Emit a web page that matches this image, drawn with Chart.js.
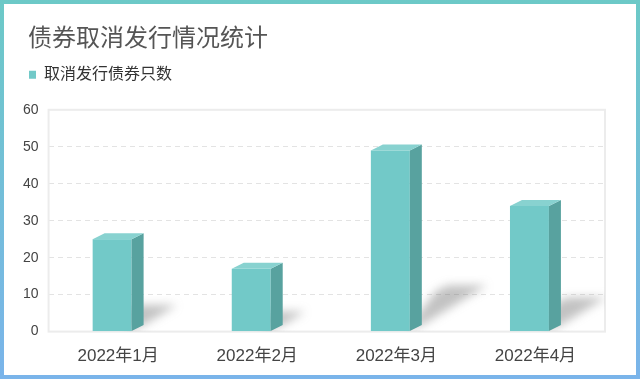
<!DOCTYPE html>
<html>
<head>
<meta charset="utf-8">
<script src="https://cdn.jsdelivr.net/npm/chart.js@4"></script>
<style>
  html, body { margin: 0; padding: 0; background: #fff; }
  #frame {
    width: 640px; height: 379px; box-sizing: border-box; padding: 4px;
    background: linear-gradient(to bottom, #6cc9c7, #7ab4ea);
  }
  #inner { width: 632px; height: 371px; background: #fff; }
  canvas { display: block; }
</style>
</head>
<body>
<div id="frame"><div id="inner"><canvas id="chart" width="632" height="371"></canvas></div></div>
<script>
const months = ["2022年1月", "2022年2月", "2022年3月", "2022年4月"];
const cancelled = [25, 17, 49, 34];
const seriesName = "取消发行债券只数";
const chartTitle = "债券取消发行情况统计";

const FRONT = "#72c9c8";
const SIDE = "#58a29f";
const TOP = "#88d2d0";
const DX = 12, DY = 6;
const FONT = "'Liberation Sans', 'Noto Sans CJK SC', sans-serif";

// draws the 3D boxes (front, side, top) plus a soft floor shadow
const bars3d = {
  id: "bars3d",
  beforeDatasetsDraw(chart) {
    const { ctx, chartArea: a } = chart;
    const bars = chart.getDatasetMeta(0).data;

    ctx.save();
    ctx.beginPath();
    ctx.rect(a.left, a.top, a.right - a.left, a.bottom - a.top);
    ctx.clip();

    // shadows first
    ctx.filter = "blur(5px)";
    ctx.fillStyle = "rgba(110,110,110,0.42)";
    for (const b of bars) {
      const w = b.width;
      const fl = b.x - w / 2 - DX / 2;
      const fr = fl + w;
      const base = b.base;
      const H = base - b.y;
      const px = 0.36 * H, py = 0.22 * H;
      ctx.beginPath();
      ctx.moveTo(fr - 4, base);
      ctx.lineTo(fr + DX, base - DY);
      ctx.lineTo(fr + DX + px, base - DY - py);
      ctx.lineTo(fl + DX + px, base - DY - py);
      ctx.lineTo(fl + px, base - py);
      ctx.closePath();
      ctx.fill();
    }
    ctx.filter = "none";

    for (const b of bars) {
      const w = b.width;
      const fl = b.x - w / 2 - DX / 2;
      const fr = fl + w;
      const top = b.y, base = b.base;

      ctx.fillStyle = FRONT;
      ctx.fillRect(fl, top, w, base - top);

      ctx.fillStyle = SIDE;
      ctx.beginPath();
      ctx.moveTo(fr, top);
      ctx.lineTo(fr + DX, top - DY);
      ctx.lineTo(fr + DX, base - DY);
      ctx.lineTo(fr, base);
      ctx.closePath();
      ctx.fill();

      ctx.fillStyle = TOP;
      ctx.beginPath();
      ctx.moveTo(fl, top);
      ctx.lineTo(fl + DX, top - DY);
      ctx.lineTo(fr + DX, top - DY);
      ctx.lineTo(fr, top);
      ctx.closePath();
      ctx.fill();
    }
    ctx.restore();
    return false;
  },
};

// light frame around the plot area
const plotFrame = {
  id: "plotFrame",
  beforeDatasetsDraw(chart) {
    const { ctx, chartArea: a } = chart;
    ctx.save();
    ctx.strokeStyle = "#ececec";
    ctx.lineWidth = 2;
    ctx.strokeRect(a.left, a.top, a.right - a.left, a.bottom - a.top);
    ctx.restore();
  },
};

// extra room under the legend, and nudge title/legend right
const headerTweak = {
  id: "headerTweak",
  beforeInit(chart) {
    const lg = chart.legend;
    if (lg) {
      const fit = lg.fit.bind(lg);
      lg.fit = function () { fit(); this.height += 17; };
    }
  },
  afterLayout(chart) {
    if (chart.titleBlock) { chart.titleBlock.left += 15; chart.titleBlock.right += 15; }
    if (chart.legend) { chart.legend.left += 15; chart.legend.right += 15; }
  },
};

const ctx = document.getElementById("chart").getContext("2d");
new Chart(ctx, {
  type: "bar",
  data: {
    labels: months,
    datasets: [{
      label: seriesName,
      data: cancelled,
      backgroundColor: FRONT,
      borderWidth: 0,
      barPercentage: 0.28,
      categoryPercentage: 1,
    }],
  },
  options: {
    responsive: false,
    animation: false,
    layout: { padding: { left: 9, right: 31, top: 0, bottom: -7 } },
    plugins: {
      title: {
        display: true,
        text: chartTitle,
        align: "start",
        color: "#555",
        font: { family: FONT, size: 24, weight: "normal" },
        padding: { top: 21, bottom: 12 },
      },
      legend: {
        display: true,
        align: "start",
        labels: {
          boxWidth: 7,
          boxHeight: 8,
          padding: 1,
          color: "#333",
          font: { family: FONT, size: 16 },
        },
      },
      tooltip: { enabled: false },
    },
    scales: {
      x: {
        grid: { display: false, drawTicks: false },
        border: { display: false },
        ticks: { color: "#444", font: { family: FONT, size: 17 }, padding: 15 },
      },
      y: {
        min: 0,
        max: 60,
        grid: { color: "#e3e3e3", lineWidth: 1, drawTicks: false },
        border: { display: false, dash: [5, 4] },
        ticks: { stepSize: 10, color: "#444", font: { family: FONT, size: 14 }, padding: 10 },
      },
    },
  },
  plugins: [headerTweak, plotFrame, bars3d],
});
</script>
</body>
</html>
